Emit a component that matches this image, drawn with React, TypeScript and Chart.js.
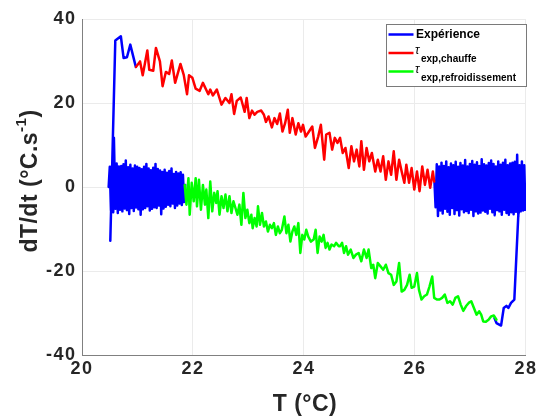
import React, { useEffect, useRef } from 'react';
import { Chart, registerables } from 'chart.js';

Chart.register(...registerables);

const xTicks = [20, 22, 24, 26, 28];
const yTicks = [-40, -20, 0, 20, 40];

// Expérience (blue) – visible parts
const blueStart: [number, number][] = [
  [20.51, -12.8], [20.6, 34.9], [20.7, 35.9], [20.75, 30.7], [20.81, 30.9], [20.87, 33.9], [20.97, 28.6],
];
const blueSpike: [number, number][] = [[20.56, 2], [20.575, 11.7], [20.59, 2]];
const leftBandRange = [20.48, 21.86];
const leftBandV = [
  0, 4.8, -5.6, 5.2, -6.0, 4.6, -5.2, 5.6, -6.2, 4.9, -5.4, 5.0, -5.8, 5.4, -5.1, 6.3, -5.5, 4.7, -6.4, 5.3,
  -5.0, 4.4, -5.7, 5.1, -4.9, 4.8, -5.3, 4.5, -6.6, 4.2, -5.3, 4.8, -5.0, 5.5, -4.6, 4.4, -5.6, 4.0, -5.2, 4.6,
  -4.8, 5.5, -5.0, 4.3, -4.4, 3.9, -6.5, 3.6, -5.1, 4.1, -4.7, 3.4, -4.2, 3.8, -4.6, 4.4, -3.9, 3.1, -5.0, 3.6,
  -4.4, 3.2, -3.9, 3.5, -4.3, 2.9, -3.6, 0.5,
];
const rightBandRange = [26.35, 27.99];
const rightBandV = [
  1.5, -4.8, 5.4, -6.9, 4.9, -5.6, 5.8, -6.3, 5.0, -5.2,
  6.1, -5.9, 4.7, -6.6, 5.6, -5.0, 5.2, -6.4, 6.0, -5.5,
  4.8, -6.8, 5.7, -5.3, 5.1, -6.0, 6.4, -5.7, 4.9, -6.2,
  5.5, -5.4, 6.2, -6.9, 5.3, -5.8, 5.9, -6.3, 5.0, -6.1,
  6.6, -5.6, 5.4, -5.9, 5.1, -6.3, 5.7, -5.2, 6.3, -6.0,
  5.5, -6.7, 4.9, -5.5, 6.1, -5.8, 5.3, -6.6, 5.8, -5.4,
  6.5, -6.2, 5.2, -6.6, 5.6, -6.0, 5.8, -6.5, 6.0, -5.9,
  7.7, -7.1, 5.2, -5.8, 6.1, -5.6, 5.2, -5.4,
];
const blueEnd: [number, number][] = [
  [27.88, -5.4], [27.862, -6.6], [27.79, -26.8], [27.73, -27.6], [27.683, -28.8], [27.647, -28.3],
  [27.599, -28.8], [27.551, -33.0], [27.468, -32.4], [27.432, -31.2],
];

// τ exp,chauffe (red)
const redPts: [number, number][] = [
  [20.974, 28.6], [21.046, 29.9], [21.094, 26.6], [21.177, 32.5], [21.212, 27.9], [21.284, 27.7], [21.332, 33.1],
  [21.404, 29.9], [21.452, 24.0], [21.511, 27.4], [21.57, 26.9], [21.619, 30.1], [21.678, 24.8], [21.774, 29.3],
  [21.833, 26.7], [21.893, 22.1], [21.928, 26.6], [21.989, 26.0], [22.048, 23.4], [22.12, 22.9], [22.179, 24.8],
  [22.276, 22.1], [22.311, 23.2], [22.358, 21.8], [22.43, 23.2], [22.514, 19.6], [22.585, 21.2], [22.657, 20.0],
  [22.693, 22.1], [22.741, 17.4], [22.788, 20.5], [22.86, 21.3], [22.931, 17.9], [22.967, 21.2], [23.015, 16.4],
  [23.063, 18.2], [23.11, 17.2], [23.158, 17.9], [23.23, 18.2], [23.278, 17.2], [23.314, 15.5], [23.361, 16.8],
  [23.421, 14.2], [23.468, 16.4], [23.517, 15.0], [23.565, 17.5], [23.612, 13.2], [23.66, 15.2], [23.708, 18.4],
  [23.744, 12.9], [23.791, 16.4], [23.851, 12.5], [23.898, 15.2], [23.946, 13.2], [23.982, 14.8], [24.03, 12.0],
  [24.09, 13.2], [24.149, 14.4], [24.197, 9.3], [24.256, 12.0], [24.304, 14.8], [24.364, 6.5], [24.4, 12.5],
  [24.46, 12.9], [24.507, 8.9], [24.555, 11.7], [24.603, 10.5], [24.65, 11.7], [24.698, 8.1], [24.747, 9.3],
  [24.806, 4.5], [24.854, 9.7], [24.901, 6.1], [24.949, 8.9], [24.997, 4.9], [25.033, 10.9], [25.08, 4.1],
  [25.128, 9.3], [25.176, 6.1], [25.223, 8.1], [25.284, 3.7], [25.33, 6.5], [25.379, 3.7], [25.427, 7.3],
  [25.474, 1.7], [25.522, 6.1], [25.57, 2.9], [25.617, 8.5], [25.665, 1.7], [25.714, 6.5], [25.76, 3.7],
  [25.808, 1.0], [25.844, 5.3], [25.893, 1.0], [25.939, 4.5], [25.987, -0.6], [26.036, 3.7], [26.082, -1.0],
  [26.131, 4.9], [26.179, 0.5], [26.226, 4.1], [26.274, -0.2], [26.322, 3.7], [26.346, 1.3],
];

// τ exp,refroidissement (green)
const greenPts: [number, number][] = [
  [21.851, 0.5], [21.882, -4.2], [21.918, 2.1], [21.941, -6.6], [21.977, 1.0], [22.013, -3.4], [22.048, 2.1],
  [22.072, -4.6], [22.107, 1.7], [22.143, -5.4], [22.179, 0.5], [22.215, -4.2], [22.24, -0.6], [22.276, -7.4],
  [22.311, 1.3], [22.347, -5.8], [22.383, -1.4], [22.419, -3.8], [22.442, -1.0], [22.478, -6.6], [22.514, -2.2],
  [22.55, -5.0], [22.585, -1.8], [22.621, -5.8], [22.657, -2.2], [22.693, -6.2], [22.729, -3.4], [22.765, -5.0],
  [22.8, -6.6], [22.836, -4.2], [22.872, -9.0], [22.908, -1.4], [22.944, -7.4], [22.979, -5.4], [23.015, -8.6],
  [23.051, -6.6], [23.075, -9.8], [23.11, -7.4], [23.146, -9.4], [23.171, -4.6], [23.207, -9.0], [23.243, -6.2],
  [23.278, -9.4], [23.314, -8.2], [23.35, -10.6], [23.386, -9.0], [23.422, -9.8], [23.458, -8.6], [23.493, -11.4],
  [23.529, -9.4], [23.565, -11.0], [23.601, -10.2], [23.647, -7.0], [23.683, -11.0], [23.719, -9.0],
  [23.755, -13.0], [23.791, -10.6], [23.826, -9.4], [23.862, -11.4], [23.898, -8.6], [23.934, -15.7],
  [23.97, -11.4], [24.005, -12.5], [24.041, -10.2], [24.077, -11.8], [24.125, -13.0], [24.174, -12.5],
  [24.21, -10.2], [24.245, -15.7], [24.281, -11.8], [24.317, -13.0], [24.353, -11.4], [24.389, -14.5],
  [24.424, -13.3], [24.46, -14.9], [24.496, -13.7], [24.543, -14.1], [24.578, -13.3], [24.627, -14.1],
  [24.65, -14.1], [24.686, -13.3], [24.722, -15.7], [24.758, -14.1], [24.793, -16.1], [24.842, -14.9],
  [24.89, -16.9], [24.936, -16.1], [24.985, -15.7], [25.033, -17.7], [25.08, -14.9], [25.128, -16.9],
  [25.164, -14.9], [25.212, -19.3], [25.248, -18.5], [25.284, -21.7], [25.33, -18.1], [25.379, -18.9],
  [25.427, -19.7], [25.474, -18.5], [25.522, -20.5], [25.57, -20.9], [25.617, -23.3], [25.665, -22.5],
  [25.714, -18.1], [25.76, -24.9], [25.808, -24.5], [25.857, -23.3], [25.903, -20.9], [25.939, -24.0],
  [25.987, -23.7], [26.036, -20.5], [26.072, -24.5], [26.118, -26.8], [26.166, -26.0], [26.215, -25.6],
  [26.261, -23.7], [26.31, -21.3], [26.346, -26.4], [26.394, -26.8], [26.441, -26.8], [26.489, -26.4],
  [26.537, -25.6], [26.584, -27.6], [26.632, -27.2], [26.68, -28.0], [26.727, -26.4], [26.775, -26.0],
  [26.824, -28.0], [26.87, -29.5], [26.918, -28.4], [26.967, -27.6], [27.014, -27.2], [27.062, -28.8],
  [27.11, -30.4], [27.157, -29.6], [27.193, -30.4], [27.229, -32.0], [27.277, -32.1], [27.325, -31.6],
  [27.372, -30.8], [27.42, -30.6], [27.468, -31.6],
];

const FONT = '"Liberation Sans", Arial, Helvetica, sans-serif';
const TEXT = '#262626';

const toXY = (pts: [number, number][]) => pts.map(([x, y]) => ({ x, y }));
const band = (range: number[], vals: number[]) =>
  vals.map((y, i) => ({ x: range[0] + ((range[1] - range[0]) * i) / (vals.length - 1), y }));
const gap = { x: NaN, y: null as any };

const spacing = {
  id: 'spacing',
  beforeDraw(chart: any) {
    (chart.ctx as any).letterSpacing = '1.5px';
  },
};

const overlay = {
  id: 'overlay',
  afterDraw(chart: any) {
    const ctx = chart.ctx as CanvasRenderingContext2D;
    const a = chart.chartArea;
    ctx.save();
    (ctx as any).letterSpacing = '0.5px';
    ctx.fillStyle = TEXT;
    // x title
    ctx.font = `bold 23px ${FONT}`;
    ctx.textAlign = 'center';
    ctx.textBaseline = 'middle';
    ctx.fillText('T (°C)', (a.left + a.right) / 2 + 1, 405);
    // y title
    ctx.save();
    ctx.translate(31, 181);
    ctx.rotate(-Math.PI / 2);
    const main = 'dT/dt (°C.s';
    const sup = '-1';
    const close = ')';
    ctx.font = `bold 23px ${FONT}`;
    const w1 = ctx.measureText(main).width;
    const w3 = ctx.measureText(close).width;
    ctx.font = `bold 15px ${FONT}`;
    const w2 = ctx.measureText(sup).width;
    const x0 = -(w1 + w2 + w3) / 2;
    ctx.textAlign = 'left';
    ctx.font = `bold 23px ${FONT}`;
    ctx.fillText(main, x0, 0);
    ctx.font = `bold 15px ${FONT}`;
    ctx.fillText(sup, x0 + w1, -9);
    ctx.font = `bold 23px ${FONT}`;
    ctx.fillText(close, x0 + w1 + w2, 0);
    ctx.restore();

    // legend
    (ctx as any).letterSpacing = '0px';
    const bx = 386.5, by = 24.5, bw = 140, bh = 62;
    ctx.fillStyle = '#ffffff';
    ctx.fillRect(bx, by, bw, bh);
    ctx.strokeStyle = '#7a7a7a';
    ctx.lineWidth = 1;
    ctx.strokeRect(bx, by, bw, bh);
    const rows = [
      { c: '#0000ff', y: 34.5 },
      { c: '#ff0000', y: 53 },
      { c: '#00ff00', y: 71.5 },
    ];
    rows.forEach((r) => {
      ctx.strokeStyle = r.c;
      ctx.lineWidth = 2.5;
      ctx.beginPath();
      ctx.moveTo(388.5, r.y);
      ctx.lineTo(413.5, r.y);
      ctx.stroke();
    });
    ctx.fillStyle = '#000000';
    ctx.textAlign = 'left';
    ctx.textBaseline = 'middle';
    ctx.font = `bold 12px ${FONT}`;
    ctx.fillText('Expérience', 416, 35);
    ctx.font = `italic 12px ${FONT}`;
    ctx.fillText('τ', 415, 51);
    ctx.fillText('τ', 415, 70);
    ctx.font = `bold 10px ${FONT}`;
    ctx.fillText('exp,chauffe', 421, 59.5);
    ctx.fillText('exp,refroidissement', 421, 78.5);
    ctx.restore();
  },
};

export default function App() {
  const ref = useRef<HTMLCanvasElement>(null);
  useEffect(() => {
    document.body.style.margin = '0';
    const blueData = [
      ...band(leftBandRange, leftBandV),
      gap,
      ...toXY(blueStart),
      gap,
      ...toXY(blueSpike),
      gap,
      ...band(rightBandRange, rightBandV),
      ...toXY(blueEnd),
    ];
    const tickFont = { size: 18, weight: 'bold' as const, family: FONT };
    const chart = new Chart(ref.current!, {
      type: 'line',
      data: {
        datasets: [
          { label: 'τ exp,chauffe', data: toXY(redPts), borderColor: '#ff0000', backgroundColor: '#ff0000' },
          { label: 'τ exp,refroidissement', data: toXY(greenPts), borderColor: '#00ff00', backgroundColor: '#00ff00' },
          { label: 'Expérience', data: blueData, borderColor: '#0000ff', backgroundColor: '#0000ff', spanGaps: false },
        ],
      },
      options: {
        animation: false,
        responsive: false,
        maintainAspectRatio: false,
        layout: { padding: { top: 19, right: 10.5, left: 0, bottom: 0 } },
        plugins: { legend: { display: false }, tooltip: { enabled: false } },
        elements: {
          point: { radius: 0 },
          line: { tension: 0, borderWidth: 2.5, borderJoinStyle: 'round', borderCapStyle: 'round' },
        },
        scales: {
          x: {
            type: 'linear',
            min: 20,
            max: 28,
            afterBuildTicks: (s: any) => {
              s.ticks = xTicks.map((v) => ({ value: v }));
            },
            afterFit: (s: any) => {
              s.height = 64;
            },
            grid: { color: '#ebebeb', drawTicks: false },
            border: { color: '#808080', width: 1 },
            ticks: { font: tickFont, color: TEXT, padding: 3, maxRotation: 0 },
          },
          y: {
            type: 'linear',
            min: -40,
            max: 40,
            afterBuildTicks: (s: any) => {
              s.ticks = yTicks.map((v) => ({ value: v }));
            },
            afterFit: (s: any) => {
              s.width = 82;
            },
            grid: { color: '#ebebeb', drawTicks: false },
            border: { color: '#808080', width: 1 },
            ticks: { font: tickFont, color: TEXT, padding: 5.5 },
          },
        },
      },
      plugins: [spacing, overlay],
    });
    return () => chart.destroy();
  }, []);
  return (
    <div style={{ width: 539, height: 419 }}>
      <canvas ref={ref} width={539} height={419} style={{ display: 'block' }} />
    </div>
  );
}
